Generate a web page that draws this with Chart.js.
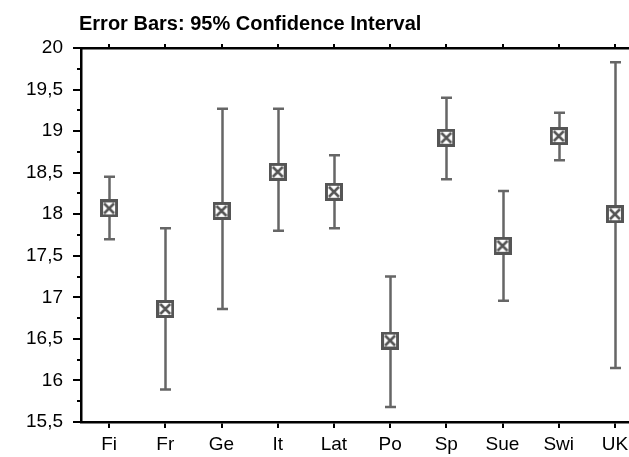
<!DOCTYPE html>
<html>
<head>
<meta charset="utf-8">
<title>Error Bars: 95% Confidence Interval</title>
<script src="https://cdn.jsdelivr.net/npm/chart.js@4.4.1/dist/chart.umd.min.js"></script>
<style>
  html, body { margin: 0; padding: 0; background: #fff; overflow: hidden; }
  #wrap { position: relative; width: 643px; height: 457px; }
  #title {
    position: absolute; left: 79px; top: 11px;
    font: bold 20px "Liberation Sans", Arial, sans-serif;
    color: #000; white-space: nowrap; line-height: 24px;
  }
</style>
</head>
<body>
<div id="wrap">
  <div id="title">Error Bars: 95% Confidence Interval</div>
  <canvas id="errChart" width="643" height="457"></canvas>
</div>
<script>
// Data
const countries = ['Fi', 'Fr', 'Ge', 'It', 'Lat', 'Po', 'Sp', 'Sue', 'Swi', 'UK'];
const means = [18.07, 16.86, 18.04, 18.51, 18.27, 16.48, 18.92, 17.62, 18.94, 18.00];
const lowerCI = [17.70, 15.89, 16.86, 17.80, 17.83, 15.68, 18.42, 16.96, 18.65, 16.15];
const upperCI = [18.45, 17.83, 19.27, 19.27, 18.71, 17.25, 19.40, 18.28, 19.22, 19.83];
const yTicks = [15.5, 16, 16.5, 17, 17.5, 18, 18.5, 19, 19.5, 20];

document.addEventListener('DOMContentLoaded', function () {
  const fontFamily = '"Liberation Sans", Arial, sans-serif';

  // Square marker with an X inside
  const marker = document.createElement('canvas');
  marker.width = 18;
  marker.height = 18;
  const m = marker.getContext('2d');
  m.fillStyle = '#fff';
  m.fillRect(1, 1, 16, 16);
  m.strokeStyle = '#555';
  m.lineWidth = 3;
  m.strokeRect(1.5, 1.5, 15, 15);
  m.lineWidth = 2.5;
  m.beginPath();
  m.moveTo(4, 4); m.lineTo(14, 14);
  m.moveTo(14, 4); m.lineTo(4, 14);
  m.stroke();

  // Error bars + minor y ticks
  const errorBars = {
    id: 'errorBars',
    beforeDatasetsDraw(chart) {
      const c = chart.ctx;
      const x = chart.scales.x;
      const y = chart.scales.y;
      c.save();
      c.strokeStyle = '#666';
      c.lineWidth = 2.5;
      for (let i = 0; i < countries.length; i++) {
        const px = Math.round(x.getPixelForValue(i)) + 0.5;
        const lo = y.getPixelForValue(lowerCI[i]);
        const hi = y.getPixelForValue(upperCI[i]);
        c.beginPath();
        c.moveTo(px, lo); c.lineTo(px, hi);
        c.moveTo(px - 5.5, lo); c.lineTo(px + 5.5, lo);
        c.moveTo(px - 5.5, hi); c.lineTo(px + 5.5, hi);
        c.stroke();
      }
      // minor ticks on the value axis
      c.strokeStyle = '#000';
      c.lineWidth = 2;
      const left = chart.chartArea.left;
      for (let k = 0; k < yTicks.length - 1; k++) {
        const py = Math.round(y.getPixelForValue(yTicks[k] + 0.25));
        c.beginPath();
        c.moveTo(left - 4, py); c.lineTo(left, py);
        c.stroke();
      }
      c.restore();
    }
  };

  const tickGrid = {
    drawOnChartArea: false,
    drawTicks: true,
    color: '#000',
    lineWidth: 2
  };

  new Chart(document.getElementById('errChart'), {
    type: 'line',
    data: {
      labels: countries,
      datasets: [{
        label: 'Mean',
        data: means,
        showLine: false,
        pointStyle: marker,
        pointRadius: 9,
        xAxisID: 'x',
        yAxisID: 'y'
      }]
    },
    options: {
      responsive: false,
      animation: false,
      devicePixelRatio: 1,
      layout: { autoPadding: false, padding: { top: 48, left: 0, right: 0, bottom: 0 } },
      plugins: {
        legend: { display: false },
        tooltip: { enabled: false },
        title: { display: false }
      },
      scales: {
        x: {
          position: 'bottom',
          offset: true,
          grid: Object.assign({}, tickGrid, { tickLength: 6 }),
          border: { display: true, color: '#000', width: 2.5 },
          ticks: {
            color: '#000',
            padding: 5,
            maxRotation: 0,
            autoSkip: false,
            font: { family: fontFamily, size: 19 }
          },
          afterFit(scale) { scale.height = 35; }
        },
        x2: {
          position: 'top',
          offset: true,
          grid: Object.assign({}, tickGrid, { tickLength: 4 }),
          border: { display: true, color: '#000', width: 2.5 },
          ticks: { display: false },
          afterFit(scale) { scale.height = 0; }
        },
        y: {
          min: 15.5,
          max: 20,
          grid: Object.assign({}, tickGrid, { tickLength: 8 }),
          border: { display: true, color: '#000', width: 2.5 },
          ticks: {
            stepSize: 0.5,
            color: '#000',
            padding: 10,
            font: { family: fontFamily, size: 19 },
            callback: function (value) {
              return String(value).replace('.', ',');
            }
          },
          afterFit(scale) { scale.width = 81; }
        }
      }
    },
    plugins: [errorBars]
  });
});
</script>
</body>
</html>
